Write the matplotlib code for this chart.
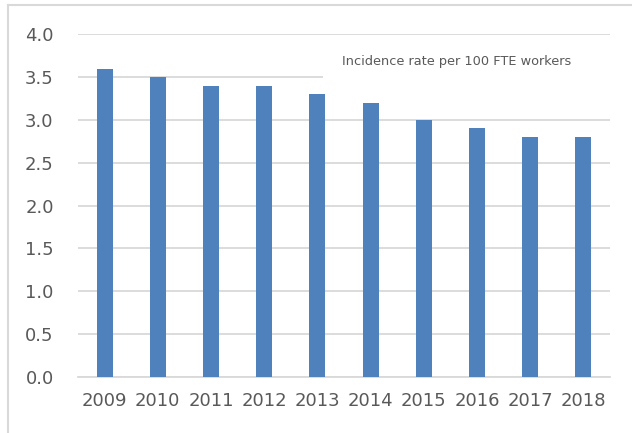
import matplotlib.pyplot as plt
from matplotlib.lines import Line2D
from matplotlib.patches import Rectangle

years = ['2009', '2010', '2011', '2012', '2013', '2014', '2015', '2016', '2017', '2018']
rate = [3.6, 3.5, 3.4, 3.4, 3.3, 3.2, 3.0, 2.9, 2.8, 2.8]
yticks = [0.0, 0.5, 1.0, 1.5, 2.0, 2.5, 3.0, 3.5, 4.0]
series_name = 'Incidence rate per 100 FTE workers'

fig = plt.figure(figsize=(6.32, 4.33), dpi=100)
ax = fig.add_axes([0.1234, 0.130, 0.8416, 0.7908])

x = range(len(years))
ax.bar(x, rate, width=0.3, color='#4f81bd', zorder=3)

ax.set_xlim(-0.5, len(years) - 0.5)
ax.set_ylim(0, 4.0)
ax.set_yticks(yticks)
ax.set_yticklabels(['%.1f' % v for v in yticks])
ax.set_xticks(list(x))
ax.set_xticklabels(years)
ax.tick_params(axis='both', length=0, labelsize=13, colors='#595959')
ax.tick_params(axis='y', pad=17.5)
ax.tick_params(axis='x', pad=11)

ax.grid(axis='y', color='#d9d9d9', linewidth=1.3, zorder=0)
for s in ['top', 'right', 'left']:
    ax.spines[s].set_visible(False)
ax.spines['bottom'].set_color('#d9d9d9')
ax.spines['bottom'].set_linewidth(1.3)

# legend area (white box over the gridline)
ax.add_patch(Rectangle((0.46, 0.83), 0.6, 0.15, transform=ax.transAxes,
                       facecolor='white', edgecolor='none', zorder=2, clip_on=False))
ax.text(0.711, 0.922, series_name, transform=ax.transAxes, ha='center', va='center',
        fontsize=9.3, color='#595959', zorder=4)

# outer frame
fig.add_artist(Line2D([8 / 632, 8 / 632], [0, 1 - 5 / 433], color='#d9d9d9', linewidth=1.5))
fig.add_artist(Line2D([8 / 632, 1], [1 - 5 / 433, 1 - 5 / 433], color='#d9d9d9', linewidth=1.5))

fig.savefig('out.png', dpi=100)
